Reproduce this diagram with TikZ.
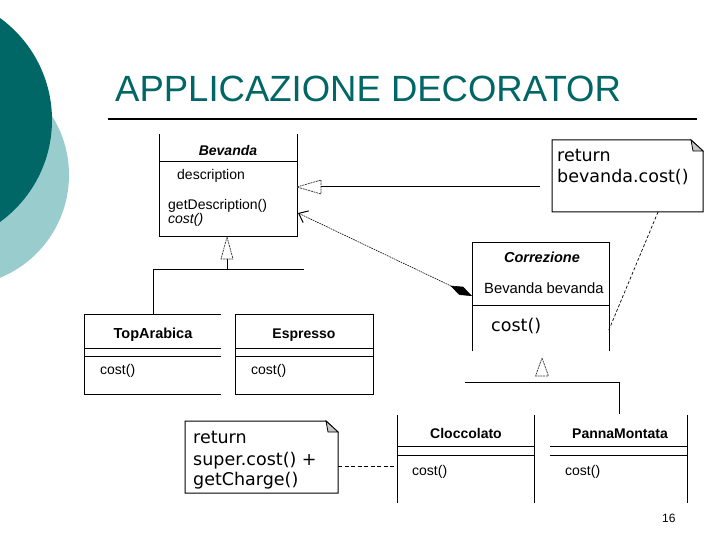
\documentclass[tikz,border=0pt]{standalone}
\usepackage{fontspec}
\setmainfont{Liberation Sans}
\newfontfamily\notefont{DejaVu Sans}
\usetikzlibrary{arrows.meta}
\definecolor{tealA}{RGB}{0,102,102}
\definecolor{tealB}{RGB}{153,204,204}
\tikzset{
  box/.style={line width=1pt},
  cls/.style={font=\fontsize{14}{16}\selectfont, inner sep=0, anchor=base west},
  clsname/.style={font=\bfseries\fontsize{14}{16}\selectfont, inner sep=0, anchor=base},
  notetext/.style={font=\notefont\fontsize{17.5}{21}\selectfont, inner sep=0, anchor=base west},
  notebox/.style={line width=1pt, fill=white},
  fold/.style={fill=gray!45, draw=black, line width=0.8pt},
  hollowtri/.style={draw=black!80, line width=0.7pt, dash pattern=on 2pt off 0.8pt, fill=white},
}
\begin{document}
\begin{tikzpicture}[x=1pt,y=-1pt]
\useasboundingbox (0,0) rectangle (720,540);
\fill[white] (0,0) rectangle (720,540);
\begin{scope}
  \clip (0,0) rectangle (720,540);
  \fill[tealB] (-42,175) circle (111);
  \fill[tealA] (-74,120) circle (126);
\end{scope}

% title
\node[anchor=base west, text=tealA, font=\fontsize{36.5}{40}\selectfont, inner sep=0] (title) at (115,102) {APPLICAZIONE DECORATOR};
\draw[line width=2pt] (108,119) -- (697,119);

% Bevanda
\draw[box] (159,134) -- (159,236) -- (297,236) -- (297,134);
\draw[box] (159,162) -- (297,162);
\node[clsname, font=\bfseries\itshape\fontsize{14}{16}\selectfont] (bevN) at (228,156) {Bevanda};
\node[cls] (bevA) at (177,180) {description};
\node[cls] (bevM1) at (168,210) {getDescription()};
\node[cls, font=\itshape\fontsize{14}{16}\selectfont] (bevM2) at (168,223) {cost()};
\coordinate (bevBot) at (227,237);
\coordinate (bevR1) at (297,187);
\coordinate (bevR2) at (298,213);

% inheritance to Bevanda
\draw[hollowtri] (bevBot) -- (233,259) -- (221,259) -- cycle;
\coordinate (stemTop) at (227,259);
\coordinate (stemBot) at (227,269);
\draw[box] (stemTop) -- (stemBot);
\draw[box] (153,269) -- (304,269);
\coordinate (taTop) at (153,314);
\draw[box] (153,269) -- (taTop);

% TopArabica
\draw[box] (221,314) -- (84,314) -- (84,394) -- (221,394);
\draw[box] (84,348) -- (221,348);
\draw[box] (84,356) -- (221,356);
\node[clsname, font=\bfseries\fontsize{14.5}{16}\selectfont] (taN) at (153,338) {TopArabica};
\node[cls] (taM) at (100,374) {cost()};

% Espresso
\draw[box] (235,314) rectangle (373,394);
\draw[box] (235,348) -- (373,348);
\draw[box] (235,356) -- (373,356);
\node[clsname] (esN) at (304,338) {Espresso};
\node[cls] (esM) at (251,374) {cost()};

% Correzione
\draw[box] (472,351) -- (472,242) -- (609,242) -- (609,351);
\draw[box] (472,305) -- (609,305);
\node[clsname, font=\bfseries\itshape\fontsize{14.5}{16}\selectfont] (coN) at (542,262) {Correzione};
\node[cls, font=\fontsize{14.8}{16}\selectfont] (coA) at (484,293) {Bevanda bevanda};
\node[notetext] (coM) at (491,331) {cost()};
\coordinate (coL) at (472,296);
\coordinate (coR) at (608,332);

% generalization arrow from right
\coordinate (genEnd) at (540,187);
\draw[hollowtri] (bevR1) -- (321,180) -- (321,194) -- cycle;
\draw[box] (321,187) -- (genEnd);

% composition
\draw[line width=0.6pt, dash pattern=on 1.6pt off 0.9pt,
      {Straight Barb[length=8pt,width=13pt,line width=1pt]}-{Diamond[length=24pt,width=9pt]}]
      (bevR2) -- (coL);

% note 1
\draw[notebox] (552,140) -- (691,140) -- (703,151) -- (703,212) -- (552,212) -- cycle;
\draw[fold] (691,140) -- (693,151) -- (703,151) -- cycle;
\node[notetext] (n1a) at (557,162) {return};
\node[notetext] (n1b) at (557,183) {bevanda.cost()};
\coordinate (n1Bot) at (658,212);
\draw[line width=0.7pt, dash pattern=on 3pt off 2pt] (n1Bot) -- (coR);

% inheritance to Correzione
\draw[hollowtri] (542,358) -- (548.5,376) -- (535.5,376) -- cycle;
\draw[box] (465,382) -- (619,382);
\coordinate (pmTop) at (619,414);
\draw[box] (619,382) -- (pmTop);

% Cloccolato
\draw[box] (397,415) -- (397,503);
\draw[box] (534,415) -- (534,503);
\draw[box] (397,446) -- (534,446);
\draw[box] (397,455) -- (534,455);
\node[clsname] (clN) at (466,438) {Cloccolato};
\node[cls] (clM) at (412,475) {cost()};
\coordinate (clL) at (397,466);

% PannaMontata
\draw[box] (687,415) -- (687,503);
\draw[box] (550,446) -- (687,446);
\draw[box] (550,455) -- (687,455);
\node[clsname] (pmN) at (620,438) {PannaMontata};
\node[cls] (pmM) at (565,475) {cost()};

% note 2
\draw[notebox] (185,421) -- (326,421) -- (338,432) -- (338,493) -- (185,493) -- cycle;
\draw[fold] (326,421) -- (328,432) -- (338,432) -- cycle;
\node[notetext] (n2a) at (193,443) {return};
\node[notetext] (n2b) at (193,465) {super.cost() +};
\node[notetext] (n2c) at (193,485) {getCharge()};
\coordinate (n2R) at (338,466);
\draw[line width=0.7pt, dash pattern=on 4pt off 2.5pt] (n2R) -- (clL);

% page number
\node[font=\fontsize{12}{14}\selectfont, inner sep=0, anchor=base west] (pg) at (662,522) {16};
\end{tikzpicture}
\end{document}
